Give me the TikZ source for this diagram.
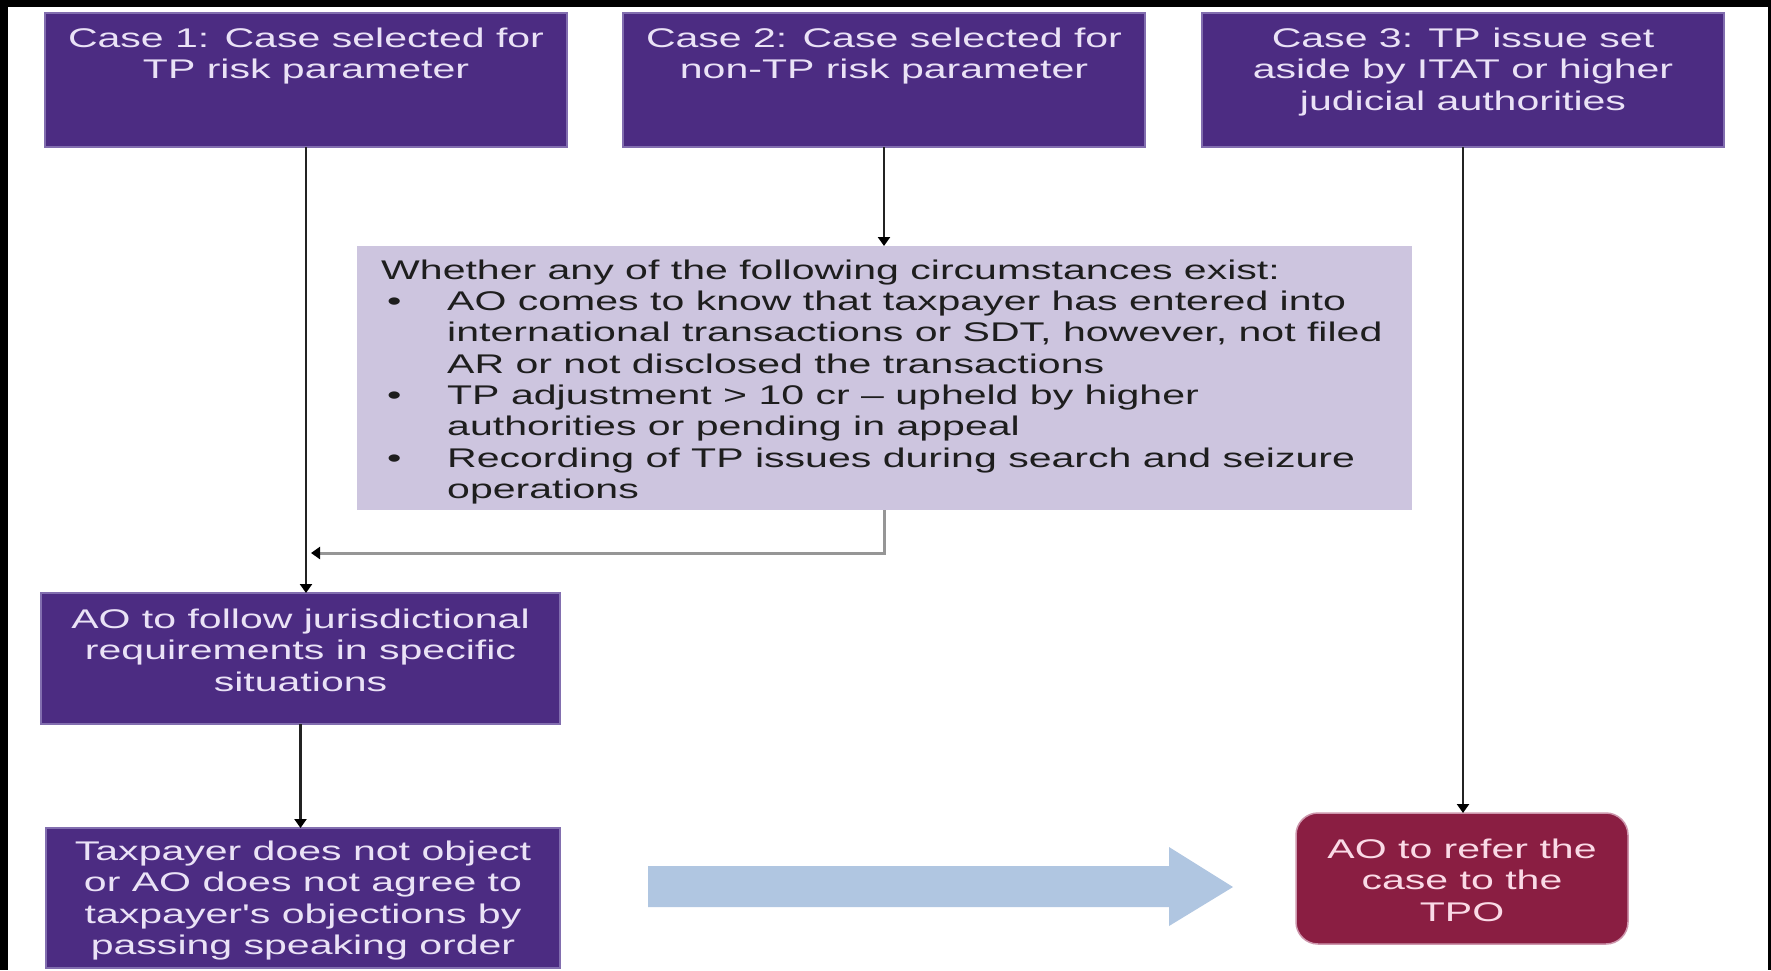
\documentclass[tikz,border=0pt]{standalone}
\usepackage{fontspec}
\newfontfamily\diafont[FakeStretch=1.52]{Liberation Sans}
\usetikzlibrary{arrows.meta}
\definecolor{boxpurple}{RGB}{76,44,130}
\definecolor{purpleedge}{RGB}{130,110,175}
\definecolor{lavender}{RGB}{205,197,223}
\definecolor{maroon}{RGB}{138,30,66}
\definecolor{maroonedge}{RGB}{205,150,172}
\definecolor{arrowblue}{RGB}{176,198,225}
\definecolor{lighttext}{RGB}{234,226,246}
\definecolor{pinktext}{RGB}{250,218,230}
\definecolor{darktext}{RGB}{30,30,30}
\definecolor{linegray}{RGB}{35,35,35}
\definecolor{elbowgray}{RGB}{150,150,150}
\begin{document}
\begin{tikzpicture}[x=1pt,y=-1pt,
  pbox/.style={draw=purpleedge, line width=1.2pt, fill=boxpurple, inner sep=0pt, outer sep=0pt},
  lbox/.style={fill=lavender, inner sep=0pt, outer sep=0pt},
  tbox/.style={draw=maroonedge, line width=1.5pt, fill=maroon, rounded corners=22pt, inner sep=0pt, outer sep=0pt},
  ptext/.style={inner sep=0pt, align=center, text=lighttext, font=\diafont\fontsize{27}{31.5}\selectfont},
  ttext/.style={inner sep=0pt, align=center, text=pinktext, font=\diafont\fontsize{27}{31.5}\selectfont},
  wtext/.style={inner sep=0pt, align=left, text=darktext, font=\diafont\fontsize{27}{31.3}\selectfont},
  conn/.style={draw=linegray, line width=2.7pt, -{Triangle[length=9pt,width=12pt,color=black]}},
  elbow/.style={draw=elbowgray, line width=3pt, -{Triangle[length=9pt,width=12pt,color=black]}}
]
\useasboundingbox (0,0) rectangle (1771,970);
\fill[black] (0,0) rectangle (1771,970);
\fill[white] (8,7) rectangle (1768,970);

% boxes
\node[pbox, minimum width=522pt, minimum height=134pt] (c1) at (306,80) {};
\node[pbox, minimum width=522pt, minimum height=134pt] (c2) at (884,80) {};
\node[pbox, minimum width=522pt, minimum height=134pt] (c3) at (1463,80) {};
\node[lbox, minimum width=1055pt, minimum height=264pt] (wh) at (884.5,378) {};
\node[pbox, minimum width=519pt, minimum height=131pt] (ao) at (300.5,658.5) {};
\node[pbox, minimum width=514pt, minimum height=140pt] (tx) at (303,898) {};
\node[tbox, minimum width=332pt, minimum height=131pt] (tpo) at (1462,878.5) {};

% texts
\node[ptext, anchor=north] (c1t) at (306,27.5) {Case 1: Case selected for\\TP risk parameter};
\node[ptext, anchor=north] (c2t) at (884,27.5) {Case 2: Case selected for\\non-TP risk parameter};
\node[ptext, anchor=north] (c3t) at (1463,27.5) {Case 3: TP issue set\\aside by ITAT or higher\\judicial authorities};
\node[wtext, anchor=north west] (wht) at (381,259.5) {Whether any of the following circumstances exist:\\
\hspace*{6pt}\makebox[60pt][l]{•}AO comes to know that taxpayer has entered into\\
\hspace*{66pt}international transactions or SDT, however, not filed\\
\hspace*{66pt}AR or not disclosed the transactions\\
\hspace*{6pt}\makebox[60pt][l]{•}TP adjustment > 10 cr – upheld by higher\\
\hspace*{66pt}authorities or pending in appeal\\
\hspace*{6pt}\makebox[60pt][l]{•}Recording of TP issues during search and seizure\\
\hspace*{66pt}operations};
\node[ptext, anchor=north] (aot) at (300.5,608.5) {AO to follow jurisdictional\\requirements in specific\\situations};
\node[ptext, anchor=north] (txt) at (303,840.5) {Taxpayer does not object\\or AO does not agree to\\taxpayer's objections by\\passing speaking order};
\node[ttext, anchor=north] (tpot) at (1462,838.5) {AO to refer the\\case to the\\TPO};

% connectors
\coordinate (elbowend) at (311,553);
\draw[conn] (c1.south) -- (c1.south |- ao.north);
\draw[conn] (c2.south) -- (wh.north -| c2.south);
\draw[elbow] (wh.south) |- (elbowend);
\draw[conn] (ao.south) -- (ao.south |- tx.north);
\draw[conn] (c3.south) -- (c3.south |- tpo.north);

% block arrow
\fill[arrowblue] (648,866) -- (1169,866) -- (1169,847) -- (1233,887) -- (1169,926) -- (1169,907) -- (648,907) -- cycle;
\end{tikzpicture}
\end{document}
